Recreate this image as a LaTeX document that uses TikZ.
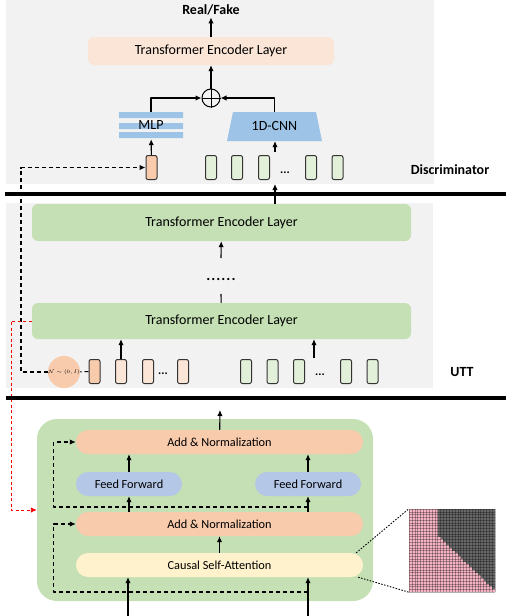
\documentclass[tikz,border=0pt]{standalone}
\usepackage{fontspec}
\setmainfont{Carlito}
\usetikzlibrary{arrows.meta}
\definecolor{panelgray}{HTML}{F2F2F2}
\definecolor{dencpeach}{HTML}{FBE5D6}
\definecolor{uencgreen}{HTML}{C5E0B4}
\definecolor{mlpblue}{HTML}{9DC3E6}
\definecolor{tokorange}{HTML}{F8CBAD}
\definecolor{tokpeach}{HTML}{FBE5D6}
\definecolor{tokgreen}{HTML}{E2F0D9}
\definecolor{tokline}{HTML}{333333}
\definecolor{ffblue}{HTML}{B4C7E7}
\definecolor{csayellow}{HTML}{FFF2CC}
\definecolor{maskpink}{HTML}{F4B4C4}
\definecolor{maskgray}{HTML}{686868}

\begin{document}
\begin{tikzpicture}[x=1pt,y=-1pt,>={Latex[length=6pt,width=5.5pt]},line join=bevel,
  big/.style={font=\fontsize{14}{16}\selectfont},
  small/.style={font=\fontsize{12.3}{14}\selectfont},
  token/.style={draw=tokline,line width=1pt,rounded corners=2pt,minimum width=11pt,minimum height=24pt,inner sep=0pt},
  layer/.style={rounded corners=6pt,inner sep=0pt,big},
  pill/.style={rounded corners=12pt,minimum height=24pt,inner sep=0pt,small},
  conn/.style={black,->,line width=1.1pt},
  res/.style={black,dash pattern=on 4pt off 3pt,line width=1.1pt},
  redres/.style={red,dash pattern=on 3pt off 2.5pt,line width=0.9pt},
  maskline/.style={black,dash pattern=on 1.5pt off 1.5pt,line width=0.9pt},
  gridline/.style={black,opacity=0.3,line width=0.35pt}]

 \useasboundingbox (0,0) rectangle (506,616);

 % panels
 \fill [panelgray] (6,0) rectangle (434,184);
 \fill [panelgray] (6,203) rectangle (433,388);

 % discriminator
 \node (node_real) at (211,10) [inner sep=2pt,big] {\textbf{Real/Fake}};
 \node (node_denc) at (211,51) [layer,fill=dencpeach,minimum width=246pt,minimum height=28pt] {Transformer Encoder Layer};
 \node (node_sum) at (211,98) [circle,draw,line width=1pt,minimum size=18pt,inner sep=0pt] {};
 \draw [line width=1pt] (node_sum.north) -- (node_sum.south) (node_sum.west) -- (node_sum.east);
 \fill [mlpblue] (119,112) rectangle (183,118) (119,123) rectangle (183,129) (119,132) rectangle (183,138);
 \node (node_mlp) at (151,125.5) [minimum width=64pt,minimum height=27pt,inner sep=0pt,big] {MLP};
 \fill [mlpblue] (233,112) -- (316,112) -- (322,141) -- (227,141) -- cycle;
 \node (node_cnn) at (274.5,126.5) [minimum width=83pt,minimum height=29pt,inner sep=0pt,big] {1D-CNN};
 \node (node_dtok0) at (151.5,167.5) [token,fill=tokorange] {};
 \node (node_dtok1) at (211,167.5) [token,fill=tokgreen] {};
 \node (node_dtok2) at (237,167.5) [token,fill=tokgreen] {};
 \node (node_dtok3) at (264,167.5) [token,fill=tokgreen] {};
 \node (node_dtok4) at (311,167.5) [token,fill=tokgreen] {};
 \node (node_dtok5) at (337.5,167.5) [token,fill=tokgreen] {};
 \node (node_ddots) at (285,173) [font=\fontsize{12}{12}\selectfont] {\textbf{...}};
 \node (node_disc) at (450,170) [big] {\textbf{Discriminator}};
 \coordinate (node_dfeed) at (275,152);
 \coordinate (node_din) at (275,184);

 \draw [conn] (node_denc) -- (node_real);
 \draw [conn] (node_sum) -- (node_denc);
 \draw [conn] (node_mlp.north) |- (node_sum.west);
 \draw [conn] (node_cnn.north) |- (node_sum.east);
 \draw [conn] (node_dtok0) -- (node_mlp);
 \draw [conn] (node_dfeed) -- (node_dfeed |- node_cnn.south);

 % UTT
 \node (node_uenc2) at (221.5,222.5) [layer,fill=uencgreen,minimum width=379pt,minimum height=37pt] {Transformer Encoder Layer};
 \node (node_uenc1) at (221.5,321) [layer,fill=uencgreen,minimum width=379pt,minimum height=36pt] {Transformer Encoder Layer};
 \node (node_udots) at (221,279) [font=\fontsize{15}{15}\selectfont] {\textbf{.\kern1pt.\kern1pt.\kern1pt.\kern1pt.\kern1pt.}};
 \coordinate (node_ugap_hi) at (221,258);
 \coordinate (node_ugap_lo) at (221,294);
 \node (node_noise) at (64,372) [circle,fill=tokorange,minimum size=23pt,inner sep=0pt,font=\fontsize{4}{4}\selectfont] {$\mathcal{N}\sim(0,I)$};
 \node (node_utok0) at (94.5,371.5) [token,fill=tokorange] {};
 \node (node_utok1) at (121,371.5) [token,fill=tokpeach] {};
 \node (node_utok2) at (148,371.5) [token,fill=tokpeach] {};
 \node (node_utok3) at (183,371.5) [token,fill=tokpeach] {};
 \node (node_uodots) at (163,374) [font=\fontsize{12}{12}\selectfont] {\textbf{...}};
 \node (node_utok4) at (246,371.5) [token,fill=tokgreen] {};
 \node (node_utok5) at (272.5,371.5) [token,fill=tokgreen] {};
 \node (node_utok6) at (299,371.5) [token,fill=tokgreen] {};
 \node (node_utok7) at (346,371.5) [token,fill=tokgreen] {};
 \node (node_utok8) at (372.5,371.5) [token,fill=tokgreen] {};
 \node (node_ugdots) at (320,375) [font=\fontsize{12}{12}\selectfont] {\textbf{...}};
 \node (node_utt) at (462,372) [big] {\textbf{UTT}};
 \coordinate (node_ufeed) at (314,358);
 \coordinate (node_skip) at (21,270);
 \coordinate (node_redx) at (11,450);

 \draw [conn] (node_uenc2.north -| node_din) -- (node_din);
 \draw [conn] (node_ugap_hi) -- (node_uenc2);
 \draw [black,line width=1.1pt] (node_uenc1) -- (node_ugap_lo);
 \draw [conn] (node_utok1) -- (node_utok1 |- node_uenc1.south);
 \draw [conn] (node_ufeed) -- (node_ufeed |- node_uenc1.south);
 \draw [res] (node_utok0) -- (node_noise);
 \draw [res,->] (node_noise) -| (node_skip) |- (node_dtok0);

 % decoder block
 \node (node_block) at (205,510) [fill=uencgreen,rounded corners=20pt,minimum width=336pt,minimum height=182pt] {};
 \node (node_an2) at (219.5,442) [pill,fill=tokorange,minimum width=287pt] {Add \& Normalization};
 \node (node_ff1) at (129,484) [pill,fill=ffblue,minimum width=106pt] {Feed Forward};
 \node (node_ff2) at (308,484) [pill,fill=ffblue,minimum width=106pt] {Feed Forward};
 \node (node_an1) at (219.5,524) [pill,fill=tokorange,minimum width=287pt] {Add \& Normalization};
 \node (node_csa) at (219.5,565) [pill,fill=csayellow,minimum width=287pt] {Causal Self-Attention};
 \coordinate (node_out) at (220,410);
 \coordinate (node_in1) at (128,616);
 \coordinate (node_in2) at (308,616);
 \coordinate (node_res1) at (308,507);
 \coordinate (node_res2) at (308,592);

 \draw [redres,->] (node_uenc1) -| (node_redx) |- (node_block);
 \draw [conn] (node_an2) -- (node_out);
 \draw [conn] (node_ff1) -- (node_ff1 |- node_an2.south);
 \draw [conn] (node_ff2) -- (node_ff2 |- node_an2.south);
 \draw [conn] (node_ff1 |- node_an1.north) -- (node_ff1);
 \draw [conn] (node_ff2 |- node_an1.north) -- (node_ff2);
 \draw [conn] (node_csa) -- (node_an1);
 \draw [conn] (node_in1) -- (node_in1 |- node_csa.south);
 \draw [conn] (node_in2) -- (node_in2 |- node_csa.south);
 \draw [res,->] (node_res1) -| ([xshift=-22pt]node_an2.west) -- (node_an2);
 \draw [res,->] (node_res2) -| ([xshift=-22pt]node_an1.west) -- (node_an1);

 % attention mask
 \node (node_mask) at (452,550.5) [minimum width=86pt,minimum height=83pt,inner sep=0pt] {};
 \fill [maskpink] (node_mask.north west) rectangle (node_mask.south east);
 \foreach \i in {0,...,28}{
   \pgfmathtruncatemacro{\c}{max(10,\i+1)}
   \fill [maskgray] (409+\c*2.8667,509+\i*2.7667) rectangle (495,509+\i*2.7667+2.7667);
 }
 \foreach \k in {0,...,30}{
   \draw [gridline] (409+\k*2.8667,509) -- (409+\k*2.8667,592);
   \draw [gridline] (409,509+\k*2.7667) -- (495,509+\k*2.7667);
 }
 \draw [maskline] ([xshift=-7pt]node_csa.north east) -- (node_mask.north west);
 \draw [maskline] ([xshift=-5pt]node_csa.south east) -- (node_mask.south west);

 % separators
 \draw [black,line width=3.5pt] (5,194) -- (506,194);
 \draw [black,line width=3.5pt] (6,398) -- (506,398);

\end{tikzpicture}
\end{document}
